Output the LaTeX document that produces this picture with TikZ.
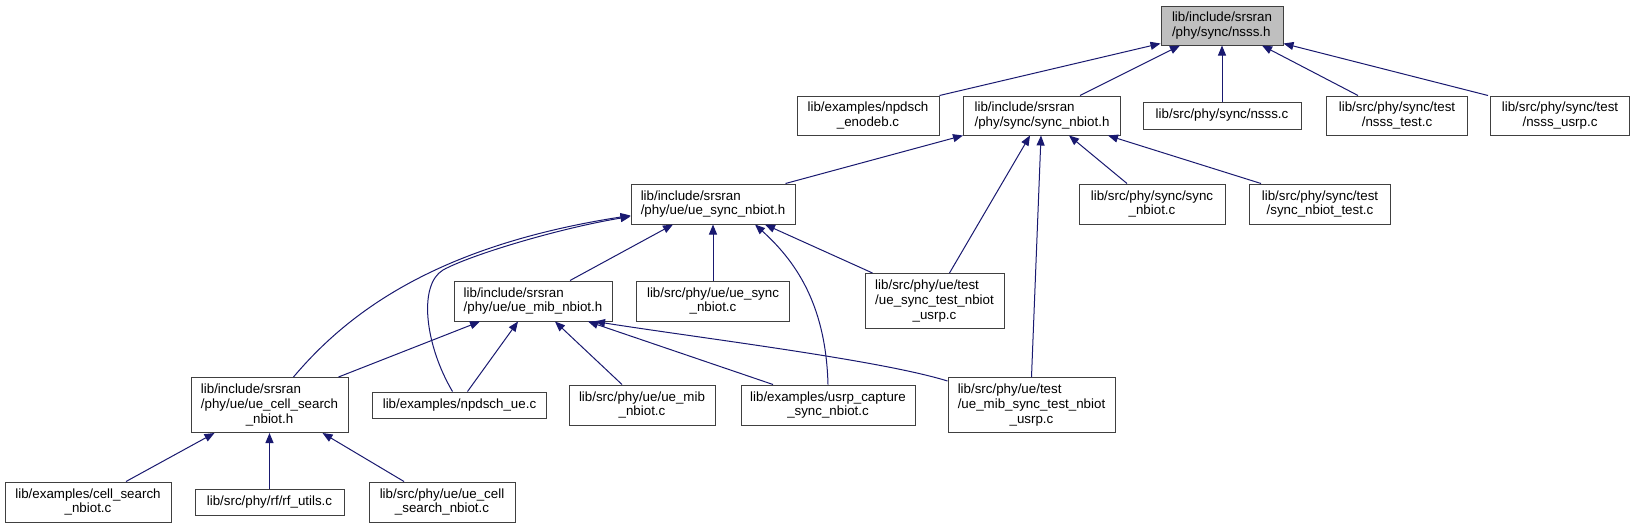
\documentclass[tikz,border=0pt]{standalone}
\usepackage{fontspec}
\setmainfont{Liberation Sans}
\usepackage{tikz}
\usetikzlibrary{arrows.meta}
\definecolor{dgEdge}{HTML}{191970}
\definecolor{dgRule}{HTML}{404040}
\definecolor{dgRoot}{HTML}{BFBFBF}

\begin{document}
\begin{tikzpicture}[x=1pt,y=-1pt,font=\fontsize{13.33}{14.8}\selectfont,
  file/.style={draw=dgRule,fill=white,line width=1pt,align=left,inner sep=0pt,
               minimum height=39pt},
  a/.style={-{Triangle[length=10pt,width=8pt]},dgEdge,line width=1pt}]
\useasboundingbox (0,0) rectangle (1635,528);
\fill[white] (0,0) rectangle (1635,528);
\node[file,fill=dgRoot,minimum width=122pt] (nsss) at (1222,25.5) {lib/include/srsran\\/phy/sync/nsss.h};
\node[file,minimum width=142pt] (enodeb) at (868,115.5) {lib/examples/npdsch\\\hfil\_enodeb.c};
\node[file,minimum width=157pt] (syncnb) at (1042,115.5) {lib/include/srsran\\/phy/sync/sync\_nbiot.h};
\node[file,minimum width=158pt,minimum height=27pt] (nsssc) at (1222,115.5) {lib/src/phy/sync/nsss.c};
\node[file,minimum width=141pt] (nssstest) at (1397,115.5) {lib/src/phy/sync/test\\\hfil/nsss\_test.c};
\node[file,minimum width=139pt] (nsssusrp) at (1560,115.5) {lib/src/phy/sync/test\\\hfil/nsss\_usrp.c};
\node[file,minimum width=164pt,minimum height=40pt] (uesyncnb) at (713,204) {lib/include/srsran\\/phy/ue/ue\_sync\_nbiot.h};
\node[file,minimum width=146pt,minimum height=40pt] (syncc) at (1152,204) {lib/src/phy/sync/sync\\\hfil\_nbiot.c};
\node[file,minimum width=141pt,minimum height=40pt] (synctest) at (1320,204) {lib/src/phy/sync/test\\\hfil/sync\_nbiot\_test.c};
\node[file,minimum width=158pt,minimum height=40pt] (uemibnb) at (533,301) {lib/include/srsran\\/phy/ue/ue\_mib\_nbiot.h};
\node[file,minimum width=153pt,minimum height=40pt] (uesyncc) at (713,301) {lib/src/phy/ue/ue\_sync\\\hfil\_nbiot.c};
\node[file,minimum width=139pt,minimum height=55pt] (uesynctest) at (934.5,301) {lib/src/phy/ue/test\\/ue\_sync\_test\_nbiot\\\hfil\_usrp.c};
\node[file,minimum width=157pt,minimum height=55pt] (cellsearchh) at (269.5,405) {lib/include/srsran\\/phy/ue/ue\_cell\_search\\\hfil\_nbiot.h};
\node[file,minimum width=174pt,minimum height=26pt] (npdschue) at (459.5,405) {lib/examples/npdsch\_ue.c};
\node[file,minimum width=146pt,minimum height=40pt] (uemibc) at (642,405) {lib/src/phy/ue/ue\_mib\\\hfil\_nbiot.c};
\node[file,minimum width=174pt,minimum height=40pt] (usrpcap) at (828,405) {lib/examples/usrp\_capture\\\hfil\_sync\_nbiot.c};
\node[file,minimum width=167pt,minimum height=55pt] (mibsynctest) at (1031.5,405) {lib/src/phy/ue/test\\/ue\_mib\_sync\_test\_nbiot\\\hfil\_usrp.c};
\node[file,minimum width=166pt,minimum height=40pt] (cellsearchc) at (88,502) {lib/examples/cell\_search\\\hfil\_nbiot.c};
\node[file,minimum width=149pt,minimum height=26pt] (rfutils) at (269.5,502) {lib/src/phy/rf/rf\_utils.c};
\node[file,minimum width=146pt,minimum height=40pt] (uecellc) at (442,502) {lib/src/phy/ue/ue\_cell\\\hfil\_search\_nbiot.c};
\draw[a] (enodeb.north east) -- ([yshift=2pt]nsss.south west);
\draw[a] ([xshift=38pt]syncnb.north) -- ([xshift=-42pt]nsss.south);
\draw[a] (nsssc) -- (nsss);
\draw[a] ([xshift=-39pt]nssstest.north) -- ([xshift=40pt]nsss.south);
\draw[a] ([xshift=-2pt]nsssusrp.north west) -- ([yshift=2pt]nsss.south east);
\draw[a] ([xshift=-10pt]uesyncnb.north east) -- (syncnb.south west);
\draw[a] ([xshift=-25pt]syncc.north) -- ([xshift=27pt]syncnb.south);
\draw[a] ([xshift=-59pt]synctest.north) -- ([xshift=66pt]syncnb.south);
\draw[a] ([xshift=15pt]uesynctest.north) -- ([xshift=-12pt]syncnb.south);
\draw[a] (mibsynctest.north) -- ([xshift=-1pt]syncnb.south);
\draw[a] ([xshift=37pt]uemibnb.north) -- ([xshift=-40pt]uesyncnb.south);
\draw[a] (uesyncc) -- (uesyncnb);
\draw[a] ([xshift=8pt]uesynctest.north west) -- ([xshift=52pt]uesyncnb.south);
\draw[a] (usrpcap.north) .. controls (826,310) and (800,265) .. ([xshift=42pt]uesyncnb.south);
\draw[a] ([xshift=24pt]cellsearchh.north) .. controls (350,310) and (440,245) .. ([yshift=9pt]uesyncnb.south west);
\draw[a] ([xshift=-7pt]npdschue.north) .. controls (425,345) and (418,285) .. (443,270)
  .. controls (470,255) and (560,228) .. ([yshift=8pt]uesyncnb.south west);
\draw[a] ([xshift=-10pt]cellsearchh.north east) -- ([xshift=-53pt]uemibnb.south);
\draw[a] ([xshift=8pt]npdschue.north) -- ([xshift=-15pt]uemibnb.south);
\draw[a] ([xshift=-20pt]uemibc.north) -- ([xshift=22pt]uemibnb.south);
\draw[a] ([xshift=-55pt]usrpcap.north) -- ([xshift=55pt]uemibnb.south);
\draw[a] ([yshift=-4pt]mibsynctest.north west) .. controls (880,360) and (700,338) .. ([xshift=62pt]uemibnb.south);
\draw[a] ([xshift=38pt]cellsearchc.north) -- ([xshift=-55pt]cellsearchh.south);
\draw[a] (rfutils) -- (cellsearchh);
\draw[a] ([xshift=-38pt]uecellc.north) -- ([xshift=53pt]cellsearchh.south);
\end{tikzpicture}
\end{document}
